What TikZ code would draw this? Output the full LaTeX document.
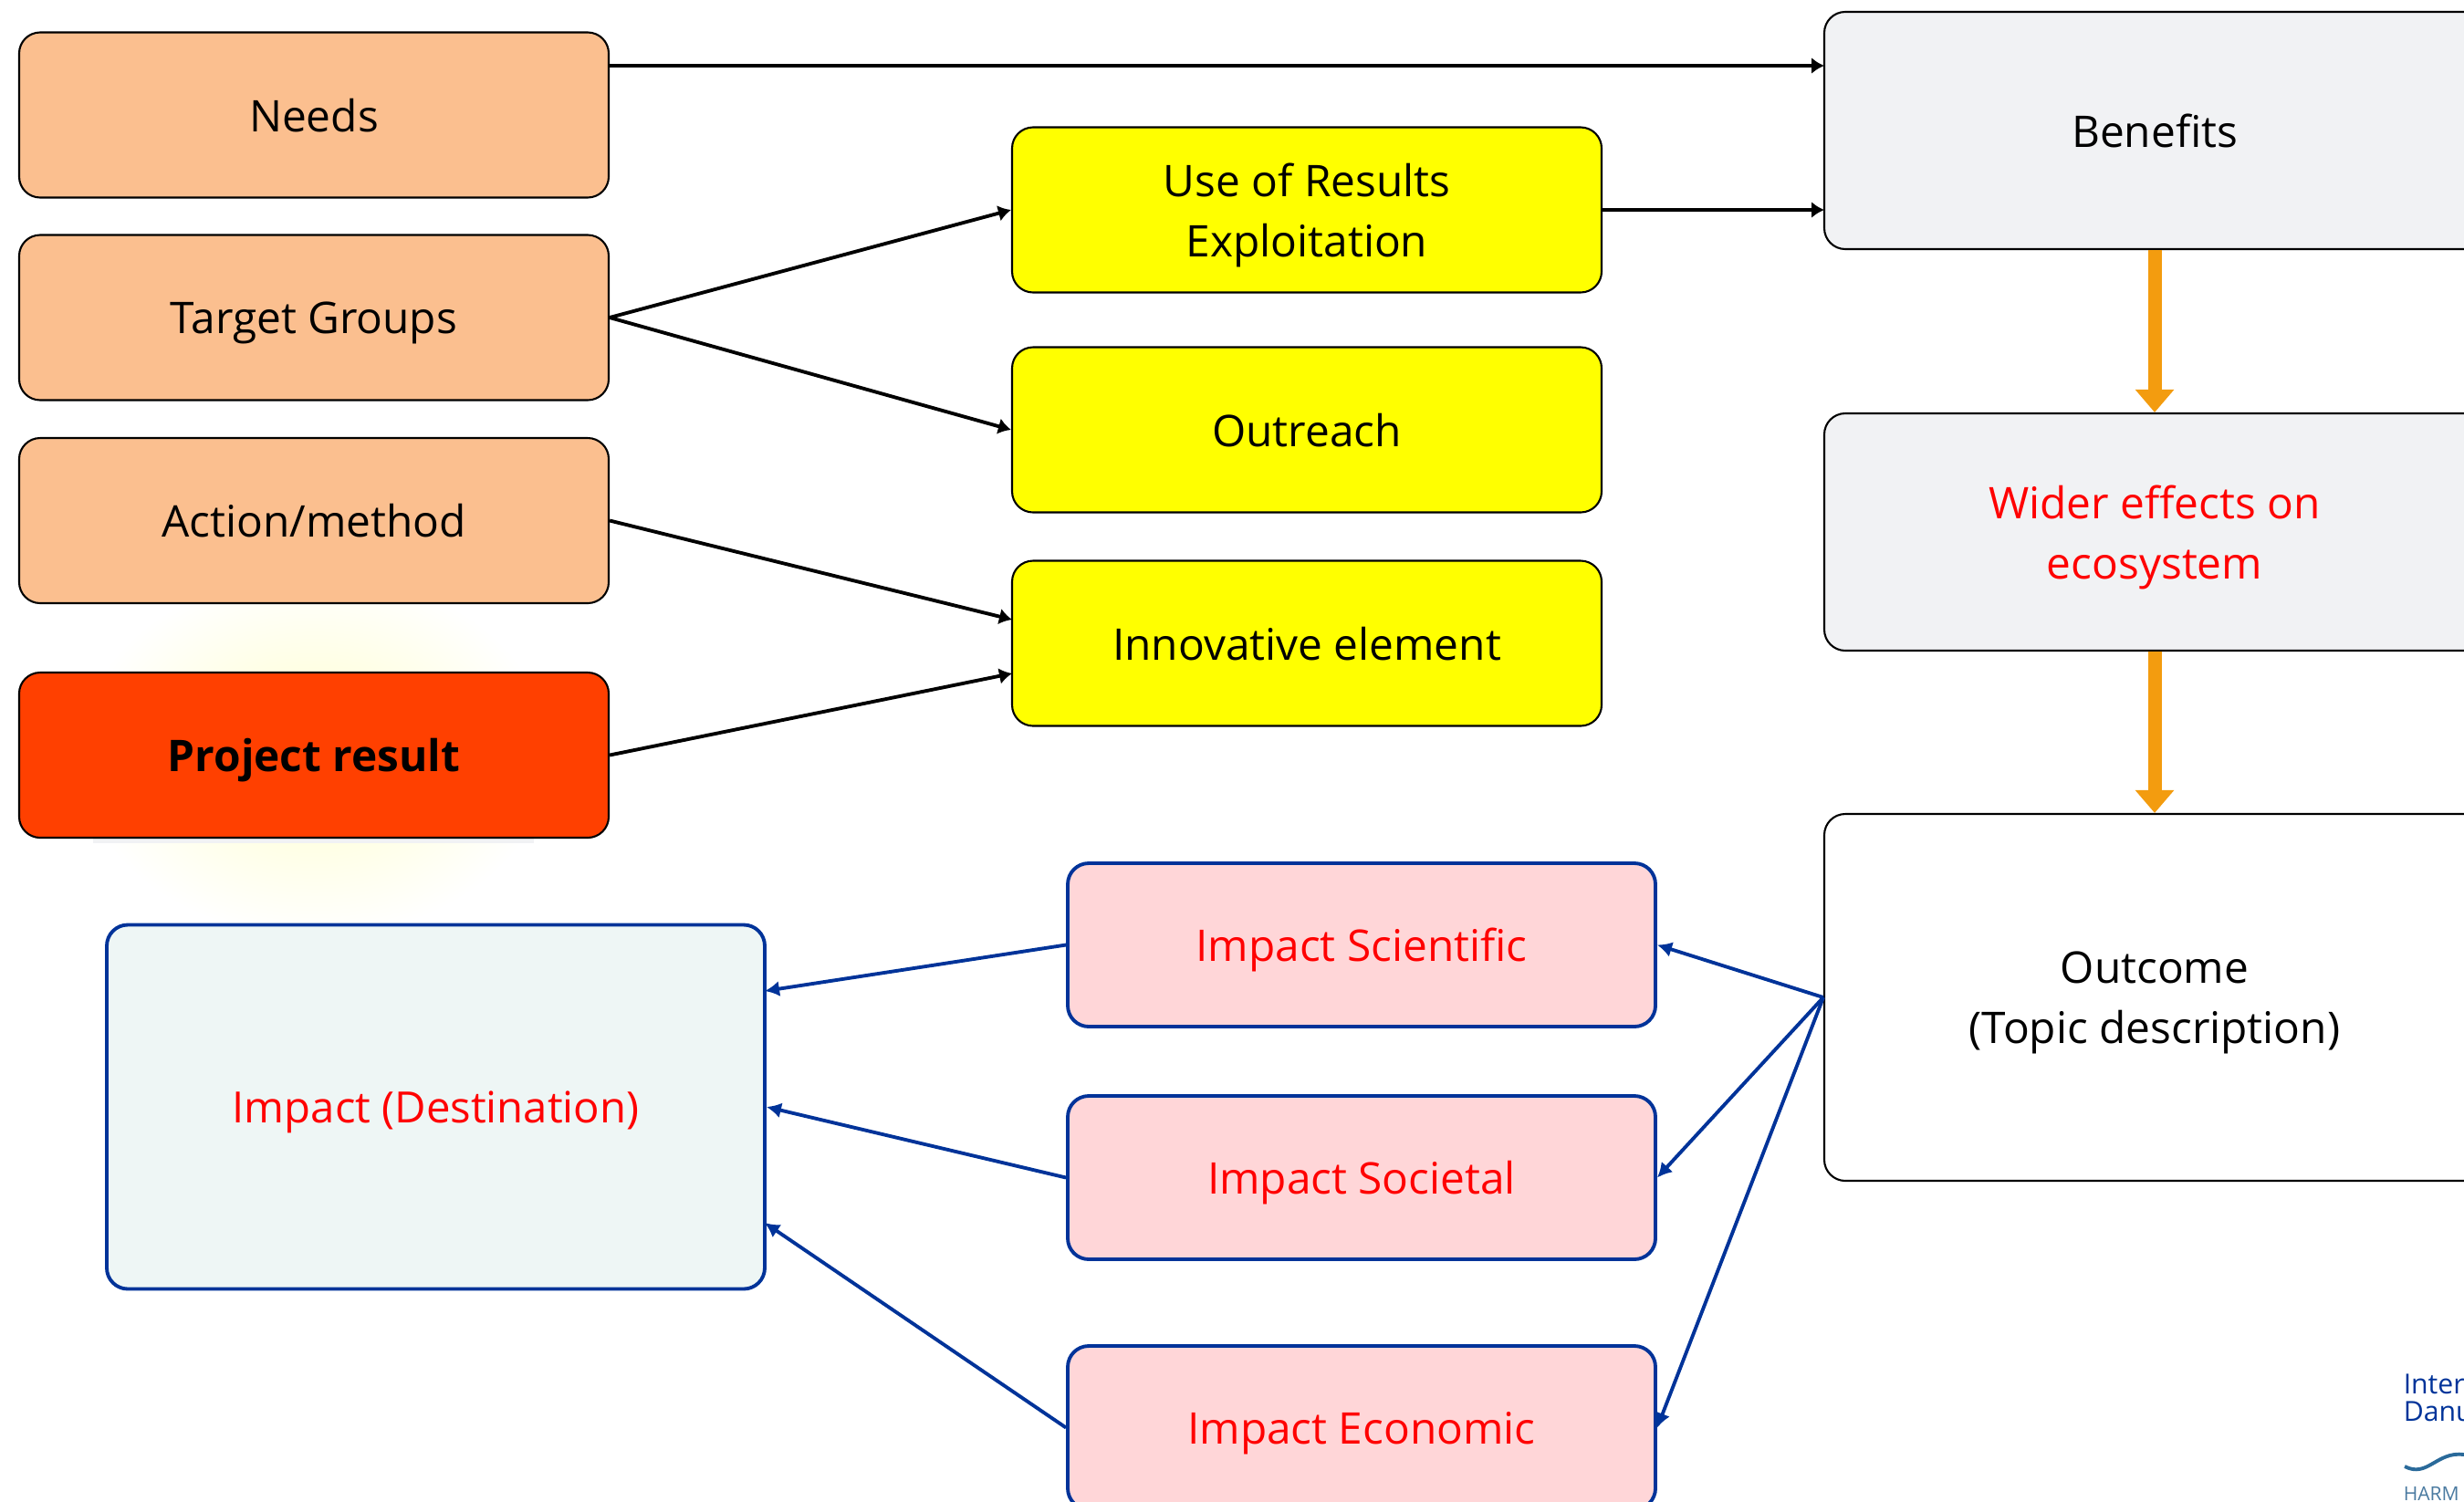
\documentclass[tikz,border=0pt]{standalone}
\usepackage{fontspec}
\setmainfont{Open Sans}
\usetikzlibrary{arrows.meta}
\definecolor{peach}{HTML}{FBBF8F}
\definecolor{resultred}{HTML}{FF4000}
\definecolor{brightyellow}{HTML}{FFFF00}
\definecolor{panelgrey}{HTML}{F1F2F4}
\definecolor{impactpink}{HTML}{FFD6D8}
\definecolor{destpale}{HTML}{EEF6F5}
\definecolor{deepblue}{HTML}{003399}
\definecolor{amber}{HTML}{F39C0F}
\definecolor{wavepetrol}{HTML}{2A6A9A}
\definecolor{logogrey}{HTML}{4A7AA0}
\tikzset{
    box/.style={draw=black, line width=0.6pt, rounded corners=0.23cm, inner sep=0pt, align=center, text depth=0pt,
        font=\fontsize{13.6}{18.9}\selectfont, text=black},
    leftbox/.style={box, fill=peach, minimum width=6.46cm, minimum height=1.81cm},
    midbox/.style={box, fill=brightyellow, minimum width=6.46cm, minimum height=1.81cm},
    rightbox/.style={box, minimum width=7.24cm},
    impactbox/.style={box, draw=deepblue, line width=1.1pt, fill=impactpink, text=red, minimum width=6.44cm, minimum height=1.79cm},
    flow/.style={-{Latex[length=0.14cm,width=0.18cm]}, line width=1.1pt, black},
    back/.style={-{Latex[length=0.16cm,width=0.17cm]}, line width=1.1pt, deepblue},
    thick flow/.style={-{Triangle[length=0.25cm,width=0.41cm]}, line width=0.15cm, amber}
}
\begin{document}
\begin{tikzpicture}
        \useasboundingbox (0,0) rectangle (27,-16.45);
        \clip (0,0) rectangle (27,-16.45);

        \shade[inner color=brightyellow!20, outer color=white] (3.44,-8.27) ellipse (2.6 and 2.0);
        \fill[panelgrey] (1.02,-9.18) rectangle (5.85,-9.24);

        \node[leftbox] (needs) at (3.44,-1.26) {Needs};
        \node[leftbox] (target) at (3.44,-3.48) {Target Groups};
        \node[leftbox] (action) at (3.44,-5.705) {Action/method};
        \node[leftbox, fill=resultred, font=\fontsize{13.6}{18.9}\selectfont\bfseries] (result) at (3.44,-8.275) {Project result};

        \node[midbox] (use) at (14.32,-2.30) {Use of Results\\Exploitation};
        \node[midbox] (outreach) at (14.32,-4.71) {Outreach};
        \node[midbox] (innovative) at (14.32,-7.05) {Innovative element};

        \node[rightbox, fill=panelgrey, minimum height=2.60cm] (benefits) at (23.61,-1.43) {Benefits};
        \node[rightbox, fill=panelgrey, minimum height=2.60cm, text=red] (wider) at (23.61,-5.83) {Wider effects on\\ecosystem};
        \node[rightbox, fill=white, minimum height=4.02cm] (outcome) at (23.61,-10.93) {Outcome\\(Topic description)};

        \node[impactbox] (scientific) at (14.92,-10.355) {Impact Scientific};
        \node[impactbox] (societal) at (14.92,-12.905) {Impact Societal};
        \node[impactbox] (economic) at (14.92,-15.645) {Impact Economic};
        \node[impactbox, fill=destpale, minimum width=7.21cm, minimum height=3.99cm, font=\fontsize{13.45}{18.9}\selectfont] (destination) at (4.775,-12.13) {Impact (Destination)};

        \coordinate (needsout) at (6.66,-0.72);
        \coordinate (benefitsup) at (19.99,-0.72);
        \coordinate (benefitslow) at (19.99,-2.30);
        \coordinate (innovativeup) at (11.09,-6.79);
        \coordinate (innovativelow) at (11.09,-7.38);
        \coordinate (destinationup) at (8.38,-10.86);
        \coordinate (destinationlow) at (8.38,-13.40);

        \draw[flow] (needsout) -- (benefitsup);
        \draw[flow] (use.east) -- (benefitslow);
        \draw[flow] (target.east) -- (use.west);
        \draw[flow] (target.east) -- (outreach.west);
        \draw[flow] (action.east) -- (innovativeup);
        \draw[flow] (result.east) -- (innovativelow);

        \draw[thick flow] (benefits.south) -- (wider.north);
        \draw[thick flow] (wider.south) -- (outcome.north);

        \draw[back] (outcome.west) -- (scientific.east);
        \draw[back] (outcome.west) -- (societal.east);
        \draw[back] (outcome.west) -- (economic.east);
        \draw[back] (scientific.west) -- (destinationup);
        \draw[back] (societal.west) -- (destination.east);
        \draw[back] (economic.west) -- (destinationlow);

        \node[anchor=west, inner sep=0pt, text=deepblue, font=\fontsize{8.6}{8.6}\selectfont] (logotop) at (26.33,-15.17) {Inter};
        \node[anchor=west, inner sep=0pt, text=deepblue, font=\fontsize{8.6}{8.6}\selectfont] (logomid) at (26.33,-15.47) {Danu};
        \draw[line width=1.1pt, wavepetrol] (26.35,-16.07) .. controls (26.6,-16.2) and (26.7,-15.9) .. (27,-15.94);
        \node[anchor=west, inner sep=0pt, text=logogrey, font=\fontsize{6}{6}\selectfont] (logolow) at (26.33,-16.37) {HARM};
    \end{tikzpicture}
\end{document}
